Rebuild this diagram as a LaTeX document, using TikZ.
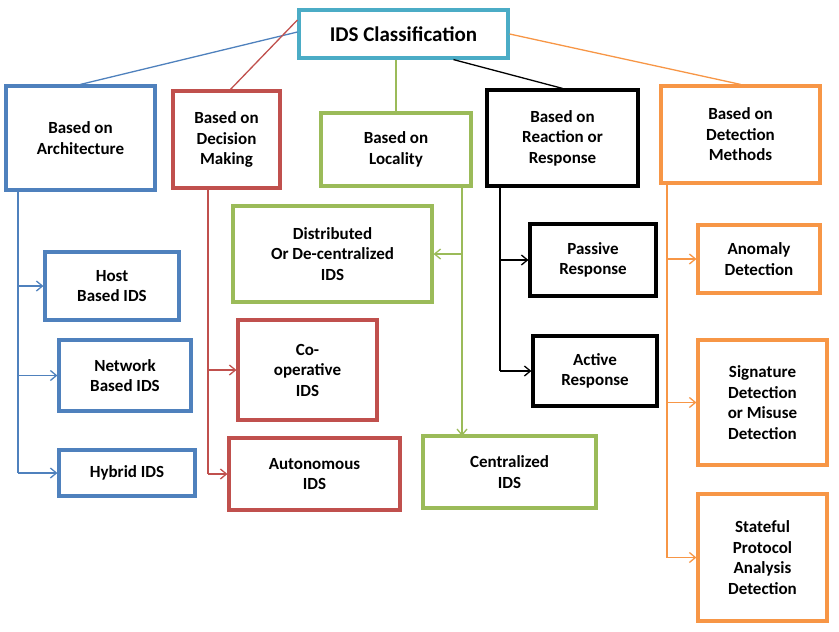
\documentclass[tikz,border=0pt]{standalone}
\usepackage{fontspec}
\setmainfont{Carlito}
\usetikzlibrary{arrows.meta}
\definecolor{cb}{HTML}{4F81BD}\definecolor{cr}{HTML}{C0504D}\definecolor{cg}{HTML}{9BBB59}
\definecolor{co}{HTML}{F79646}\definecolor{cc}{HTML}{4BACC6}
\begin{document}
\begin{tikzpicture}[x=1pt,y=-1pt,
 box/.style={draw,line width=3.2pt,fill=white,align=center,inner sep=0pt,font=\bfseries\fontsize{17}{20.5}\selectfont},
 ln/.style={line width=1.3pt},
 ar/.style={ln,-{Straight Barb[length=6pt,width=10pt]}}]
\useasboundingbox (0,0) rectangle (839,632);
\node[box,draw=cc,minimum width=209,minimum height=48,font=\bfseries\fontsize{21}{24}\selectfont] (t) at (403.5,34) {IDS Classification};
\node[box,draw=cb,minimum width=149,minimum height=104] (arch) at (80.5,138) {Based on\\Architecture};
\node[box,draw=cr,minimum width=107,minimum height=97] (dec) at (226.5,139.5) {Based on\\Decision\\Making};
\node[box,draw=cg,minimum width=150,minimum height=73] (loc) at (396,149.5) {Based on\\Locality};
\node[box,draw=black,minimum width=151,minimum height=96] (rea) at (562.5,138) {Based on\\Reaction or\\Response};
\node[box,draw=co,minimum width=159,minimum height=97] (det) at (740.5,134.5) {Based on\\Detection\\Methods};
\node[box,draw=cb,minimum width=134,minimum height=68] (host) at (112,286) {Host\\Based IDS};
\node[box,draw=cb,minimum width=132,minimum height=71] (net) at (125,375.5) {Network\\Based IDS};
\node[box,draw=cb,minimum width=136,minimum height=46] (hyb) at (127,473) {Hybrid IDS};
\node[box,draw=cg,minimum width=199,minimum height=96] (dist) at (332.5,254) {Distributed\\Or De-centralized\\IDS};
\node[box,draw=cr,minimum width=139,minimum height=100] (coop) at (307.5,370) {Co-\\operative\\IDS};
\node[box,draw=cr,minimum width=171,minimum height=72] (auto) at (314.5,474) {Autonomous\\IDS};
\node[box,draw=cg,minimum width=173,minimum height=72] (cent) at (509.5,472) {Centralized\\IDS};
\node[box,draw=black,minimum width=126,minimum height=72] (pass) at (593,260) {Passive\\Response};
\node[box,draw=black,minimum width=124,minimum height=70] (act) at (595,371) {Active\\Response};
\node[box,draw=co,minimum width=122,minimum height=68] (anom) at (759,259) {Anomaly\\Detection};
\node[box,draw=co,minimum width=129,minimum height=125] (sig) at (762.5,402.5) {Signature\\Detection\\or Misuse\\Detection};
\node[box,draw=co,minimum width=129,minimum height=127] (stat) at (762.5,557.5) {Stateful\\Protocol\\Analysis\\Detection};
\draw[ln,cb] ([yshift=2]t.west) -- (arch.north);
\draw[ln,cr] ([yshift=14]t.west) -- ([xshift=4]dec.north);
\draw[ln,cg] (t.south -| loc.north) -- (loc.north);
\draw[ln,black] ([xshift=50]t.south) -- (rea.north);
\draw[ln,co] (t.east) -- (det.north);
\coordinate (ta) at (18,473); \coordinate (td) at (208,474);
\coordinate (tl) at (462,436); \coordinate (tr) at (500,371);
\coordinate (to) at (667,557.5);
\draw[ln,cb] (arch.south -| ta) -- (ta);
\draw[ar,cb] (host.west -| ta) -- (host.west);
\draw[ar,cb] (net.west -| ta) -- (net.west);
\draw[ar,cb] (ta) -- (hyb.west);
\draw[ln,cr] (dec.south -| td) -- (td);
\draw[ar,cr] (coop.west -| td) -- (coop.west);
\draw[ar,cr] (td) -- (auto.west);
\draw[ar,cg] (loc.south -| tl) -- (tl);
\draw[ar,cg] (dist.east -| tl) -- (dist.east);
\draw[ln,black] (rea.south -| tr) -- (tr);
\draw[ar,black] (pass.west -| tr) -- (pass.west);
\draw[ar,black] (tr) -- (act.west);
\draw[ln,co] (det.south -| to) -- (to);
\draw[ar,co] (anom.west -| to) -- (anom.west);
\draw[ar,co] (sig.west -| to) -- (sig.west);
\draw[ar,co] (to) -- (stat.west);
\end{tikzpicture}
\end{document}
